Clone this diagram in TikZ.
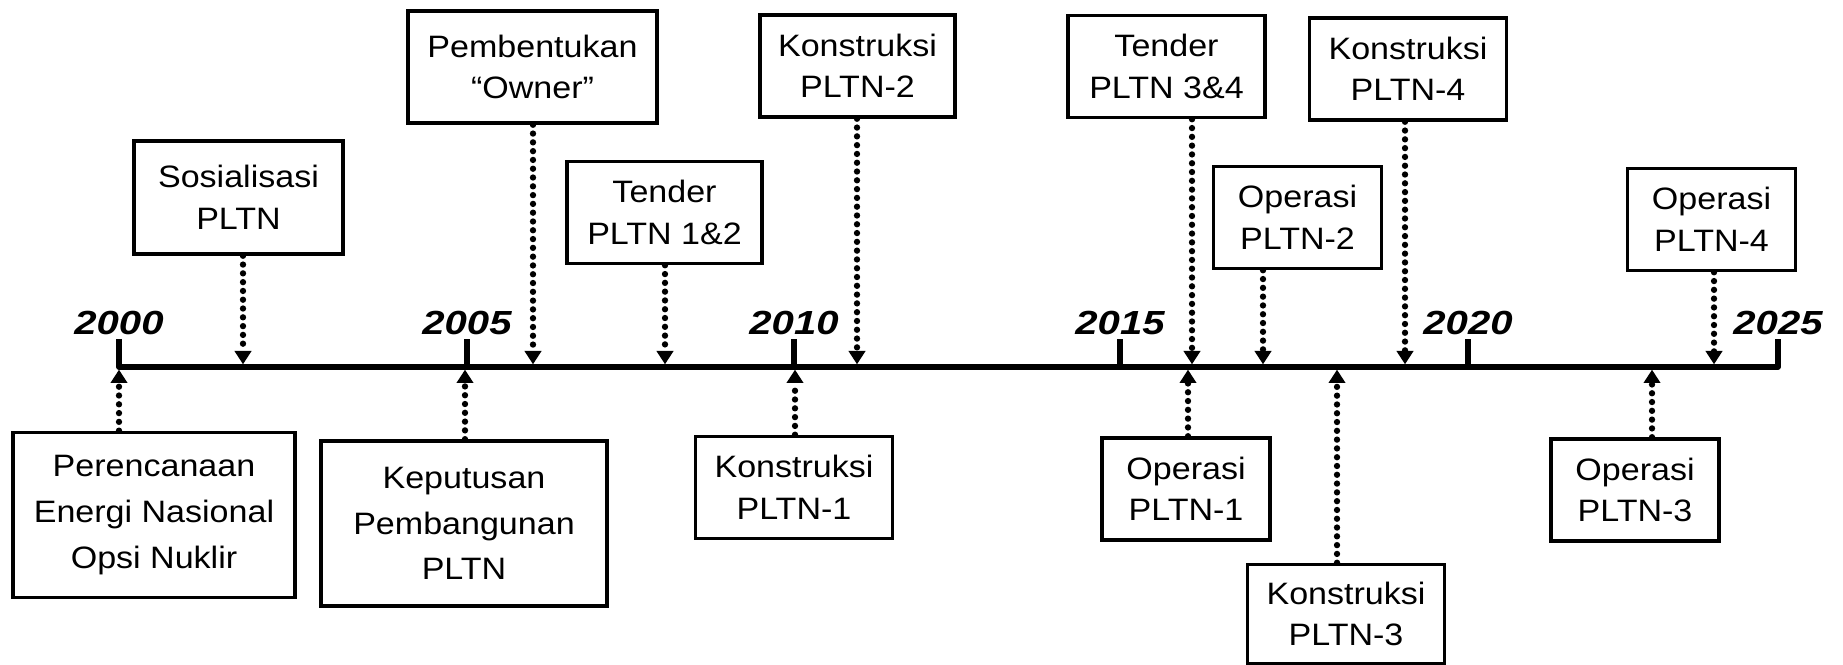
\documentclass[tikz,border=0pt]{standalone}
\usepackage{fontspec}
\setmainfont{Liberation Sans}[FakeStretch=1.1]
\newfontfamily\yearfont{Liberation Sans}[FakeStretch=1.2]
\usetikzlibrary{arrows.meta,positioning}

\begin{document}
\begin{tikzpicture}[
  x=0.01cm, y=-0.01cm,
  event/.style={draw,line width=1pt,align=center,inner sep=2pt,
    minimum width=1.97cm,minimum height=1.02cm,font=\fontsize{8.8}{11.8}\selectfont},
  opbox/.style={event,minimum width=1.68cm},
  tallbox/.style={event,minimum height=1.65cm,font=\fontsize{8.8}{13}\selectfont},
  year/.style={anchor=south,inner sep=1pt,
    font=\yearfont\bfseries\itshape\fontsize{9.5}{11}\selectfont},
  axisline/.style={line width=1.5pt,line join=round},
  pointer/.style={line width=1.8pt,line cap=round,dash pattern=on 0pt off 2.5pt,
    -{Triangle[width=4.6pt,length=3.8pt]},shorten >=0.75pt}
]
  \useasboundingbox (0,0) rectangle (1843,665);
  \coordinate (axis) at (0,367);

  \draw[axisline] (119,339) |- (1778,367) -- (1778,339);
  \foreach \x in {467,794,1120,1468}
    \draw[axisline] (\x,367) -- (\x,339);
  \foreach \x/\yr in {119/2000,467/2005,794/2010,1120/2015,1468/2020,1778/2025}
    \node[year] (y\yr) at (\x,339) {\yr};

  \node[event,minimum width=2.09cm,minimum height=1.13cm] (sosial) at (238.5,197.5) {Sosialisasi\\PLTN};
  \node[event,minimum width=2.49cm,minimum height=1.12cm] (owner) at (532.5,67) {Pembentukan\\``Owner''};
  \node[event,minimum width=1.95cm] (tender12) at (664.5,212.5) {Tender\\PLTN 1\&2};
  \node[event,minimum width=1.95cm] (kon2) at (857.5,66) {Konstruksi\\PLTN-2};
  \node[event] (tender34) at (1166.5,66.5) {Tender\\PLTN 3\&4};
  \node[opbox] (op2) at (1297.5,217.5) {Operasi\\PLTN-2};
  \node[event] (kon4) at (1408,69) {Konstruksi\\PLTN-4};
  \node[opbox] (op4) at (1711.5,219.5) {Operasi\\PLTN-4};

  \node[tallbox,minimum width=2.82cm] (rencana) at (154,515) {Perencanaan\\Energi Nasional\\Opsi Nuklir};
  \node[tallbox,minimum width=2.86cm] (putusan) at (464,523.5) {Keputusan\\Pembangunan\\PLTN};
  \node[event] (kon1) at (794,487.5) {Konstruksi\\PLTN-1};
  \node[opbox] (op1) at (1186,489) {Operasi\\PLTN-1};
  \node[event,minimum height=0.99cm] (kon3) at (1346,614) {Konstruksi\\PLTN-3};
  \node[opbox] (op3) at (1635,490) {Operasi\\PLTN-3};

  \foreach \b/\x in {sosial/243,owner/533,tender12/665,kon2/857,tender34/1192,op2/1263,kon4/1405,op4/1714}
    \draw[pointer] (\x,0 |- \b.south) -- (\x,0 |- axis);
  \foreach \b/\x in {rencana/119,putusan/465,kon1/795,op1/1188,kon3/1337,op3/1652}
    \draw[pointer] (\x,0 |- \b.north) -- (\x,0 |- axis);
\end{tikzpicture}
\end{document}
